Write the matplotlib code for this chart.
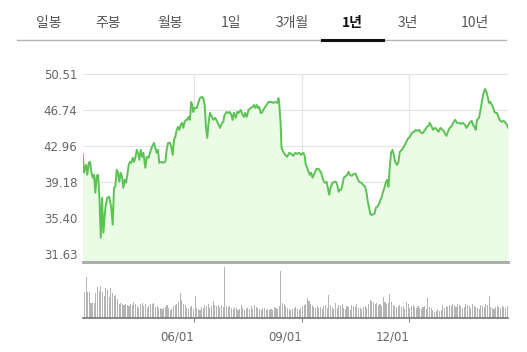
import numpy as np
import pandas as pd
import matplotlib
matplotlib.use("Agg")
import matplotlib.pyplot as plt
import matplotlib.dates as mdates

# period tabs on top
tabs = ["일봉", "주봉", "월봉", "1일", "3개월", "1년", "3년", "10년"]
active_tab = "1년"

start = pd.Timestamp("2017-02-27")
end_offset = 360.7

# sampled closing prices (offset in days from start, price)
days = [0.0, 1.1, 2.8, 3.9, 5.1, 6.2, 7.3, 8.5, 9.6, 10.7, 11.9, 13.0, 14.1, 15.3, 16.4, 17.5,
        19.2, 20.8, 22.5, 24.2, 25.4, 26.5, 27.6, 28.8, 29.9, 31.0, 32.2, 33.3, 34.4, 35.6, 36.7,
        37.8, 39.0, 40.1, 41.2, 42.4, 43.5, 44.6, 45.8, 46.9, 48.0, 49.2, 50.3, 51.4, 53.1, 54.2,
        55.9, 57.0, 58.7, 60.4, 61.5, 62.7, 63.8, 64.9, 66.6, 68.3, 70.0, 71.2, 72.3, 74.0, 75.1,
        76.3, 77.4, 78.5, 79.7, 80.8, 81.9, 83.1, 84.2, 85.3, 86.4, 87.5, 88.6, 89.8, 90.9, 92.0,
        93.2, 93.7, 94.9, 96.6, 98.3, 99.4, 101.1, 102.2, 103.4, 104.5, 105.6, 106.8, 107.9, 109.6,
        110.7, 112.4, 114.1, 115.3, 116.4, 118.1, 119.2, 120.3, 122.0, 123.7, 124.8, 126.0, 127.1,
        128.2, 129.9, 131.0, 132.2, 133.9, 135.6, 136.7, 137.8, 139.0, 140.7, 142.4, 144.1, 145.2,
        146.3, 147.5, 148.6, 149.7, 150.8, 152.0, 153.1, 154.7, 155.9, 157.6, 160.2, 161.5, 163.2,
        164.9, 166.1, 166.6, 167.8, 168.6, 170.0, 171.7, 173.4, 175.1, 176.8, 178.5, 180.2, 181.9,
        183.6, 185.3, 186.9, 188.1, 189.2, 190.3, 191.5, 192.6, 193.7, 194.9, 196.0, 197.1, 198.3,
        200.0, 201.1, 202.2, 203.4, 204.5, 205.6, 206.8, 207.9, 209.0, 210.2, 211.9, 213.6, 214.7,
        215.8, 217.0, 218.1, 219.2, 220.3, 221.4, 222.5, 224.2, 225.4, 226.5, 228.2, 229.9, 231.6,
        232.7, 234.4, 236.1, 237.8, 239.5, 240.7, 241.8, 242.9, 244.1, 245.8, 247.5, 248.6, 249.7,
        251.4, 252.5, 253.6, 254.7, 255.9, 257.0, 258.1, 259.3, 260.4, 261.5, 262.7, 263.8, 264.9,
        266.6, 267.8, 268.9, 270.6, 272.3, 274.0, 275.7, 277.4, 279.1, 280.8, 282.5, 284.2, 285.3,
        286.9, 288.6, 290.3, 292.0, 293.2, 294.3, 296.0, 297.1, 298.8, 300.0, 301.7, 303.4, 305.1,
        306.2, 307.3, 308.5, 309.6, 311.3, 313.0, 314.7, 315.8, 317.5, 319.2, 320.8, 322.5, 324.2,
        325.4, 327.1, 328.8, 329.9, 331.0, 332.2, 333.3, 334.4, 336.1, 337.8, 339.5, 341.2, 342.4,
        343.5, 344.6, 345.8, 346.9, 348.0, 349.2, 350.3, 351.4, 352.6, 353.6, 355.3, 357.0, 358.7,
        359.8, 360.7]
prices = [42.15, 40.16, 40.99, 39.94, 41.20, 41.31, 40.26, 39.63, 39.94, 38.06, 39.84, 39.94, 37.64,
          33.34, 37.53, 33.86, 36.48, 37.53, 37.64, 36.48, 34.70, 38.58, 38.69, 40.47, 40.16, 39.21,
          40.16, 39.74, 38.58, 39.42, 39.11, 39.94, 40.99, 41.31, 41.20, 41.73, 41.31, 41.73, 42.57,
          42.25, 41.52, 42.57, 41.83, 42.25, 40.68, 41.83, 41.73, 42.25, 42.88, 43.30, 42.78, 42.25,
          42.57, 41.20, 41.31, 41.20, 41.31, 42.57, 43.30, 43.30, 42.88, 42.04, 43.62, 43.93, 44.67,
          44.98, 44.67, 45.19, 45.40, 44.88, 45.51, 45.72, 45.72, 46.03, 45.72, 47.60, 47.08, 46.55,
          46.97, 46.97, 47.60, 48.02, 48.13, 48.02, 47.29, 44.98, 43.83, 45.51, 46.45, 46.03, 45.72,
          45.93, 45.51, 45.19, 44.88, 45.40, 45.51, 46.24, 46.55, 46.45, 46.55, 46.24, 45.72, 46.45,
          45.93, 46.55, 46.45, 46.76, 46.24, 46.03, 46.45, 46.03, 46.76, 46.97, 47.08, 47.29, 46.97,
          47.29, 46.97, 47.08, 46.45, 46.45, 46.76, 47.08, 47.29, 47.60, 47.60, 47.50, 47.60, 47.50,
          48.02, 47.50, 45.40, 42.78, 42.36, 42.04, 41.83, 42.25, 42.15, 41.94, 42.25, 42.15, 42.25,
          42.04, 42.25, 42.04, 40.99, 40.68, 40.26, 39.94, 40.16, 39.63, 39.94, 40.26, 40.57, 40.57,
          40.37, 40.16, 39.63, 39.21, 39.11, 39.21, 38.58, 37.85, 38.58, 39.11, 39.21, 39.21, 38.90,
          38.16, 38.37, 38.37, 38.90, 39.63, 39.74, 39.94, 40.26, 39.94, 39.84, 40.05, 40.05, 39.63,
          39.21, 39.11, 38.90, 38.69, 38.06, 37.11, 36.48, 35.75, 35.75, 35.86, 36.48, 36.59, 36.90,
          37.32, 37.64, 38.16, 38.58, 39.11, 39.42, 38.69, 40.78, 42.25, 42.57, 42.04, 41.31, 40.99,
          41.31, 42.36, 42.57, 42.88, 43.30, 43.72, 43.93, 44.35, 44.46, 44.67, 44.56, 44.67, 44.35,
          44.35, 44.67, 44.98, 45.09, 45.40, 44.98, 44.67, 44.88, 44.77, 44.46, 44.88, 44.67, 44.56,
          44.25, 44.04, 44.46, 44.88, 45.09, 45.51, 45.72, 45.40, 45.40, 45.30, 45.40, 45.19, 44.88,
          45.19, 45.51, 45.61, 45.19, 44.98, 44.67, 45.72, 45.93, 47.08, 48.34, 48.97, 48.65, 48.13,
          47.50, 47.60, 47.29, 47.08, 46.55, 46.45, 46.45, 46.03, 45.72, 45.51, 45.61, 45.40, 45.19,
          44.88]

# trading volume (millions of shares, no axis labels on the chart)
volume = [2.1, 2.7, 4.2, 2.7, 2.7, 1.6, 1.6, 1.6, 2.6, 3.2, 2.8, 3.3, 2.7, 2.3, 3.1, 2.9, 2.2, 3.1,
          2.6, 2.3, 2.4, 2.0, 1.5, 1.6, 1.4, 1.3, 1.5, 1.3, 1.2, 1.4, 1.3, 1.7, 1.5, 1.2, 1.0, 1.4,
          1.6, 1.2, 1.4, 1.0, 1.2, 1.5, 1.4, 1.6, 1.1, 1.2, 1.0, 1.0, 0.9, 1.0, 1.1, 1.3, 1.0, 0.8,
          0.9, 1.2, 1.3, 1.4, 1.7, 2.6, 1.9, 1.4, 1.3, 1.0, 0.9, 1.1, 1.2, 0.9, 2.3, 1.0, 0.9, 0.8,
          1.1, 1.0, 1.3, 1.2, 1.4, 1.0, 1.2, 1.8, 1.3, 1.2, 1.3, 1.1, 1.3, 1.1, 5.2,
          1.2, 1.1, 1.2, 1.0, 0.9, 1.1, 1.0, 0.8, 0.9, 1.3, 1.0, 0.8, 1.0, 1.0, 0.9, 1.2, 0.9, 1.3,
          1.1, 1.0, 0.9, 0.8, 1.0, 1.0, 0.8, 0.9, 0.8, 0.9, 0.8, 1.1, 1.0, 0.9, 1.2, 4.8,
          1.6, 1.5, 1.2, 1.0, 0.9, 0.8, 0.9, 1.0, 1.1, 0.9, 0.8, 1.0, 1.2, 1.3, 1.5, 2.1, 1.8, 1.5,
          1.3, 1.1, 1.0, 1.2, 1.0, 1.1, 0.9, 1.2, 1.3, 1.0, 2.4, 1.3, 1.1, 0.9, 1.6, 1.0, 1.3, 1.2,
          1.4, 1.0, 0.9, 1.2, 1.1, 0.8, 1.3, 1.2, 1.1, 1.4, 1.0,
          1.0, 0.9, 1.1, 1.2, 1.0, 1.5, 1.9, 1.8, 1.7, 1.4, 1.6, 1.3, 1.5, 1.2, 2.2, 1.7, 1.5, 1.6,
          2.5, 1.7, 1.3, 1.2, 1.1, 1.2, 1.3, 1.1, 1.2, 0.9, 1.7, 1.4, 1.0, 1.2, 1.3, 1.1, 1.0, 1.2,
          1.0, 0.9, 1.1, 1.2, 0.9, 2.1, 1.1, 1.0, 0.8, 0.6, 0.7, 0.9, 0.7, 0.8, 1.3, 1.0, 1.2, 1.1,
          1.3, 1.2, 1.4, 1.3, 1.1, 1.5, 1.3, 1.2, 1.0, 1.1, 1.4, 1.3, 1.2, 1.0, 1.5, 1.2, 1.1, 1.0,
          0.9, 1.3, 1.2, 1.1, 1.4, 1.3, 2.3, 1.1, 1.0, 0.9, 1.1, 1.2, 1.1, 1.0, 1.2, 1.1, 1.0, 1.2]

y_ticks = [31.63, 35.40, 39.18, 42.96, 46.74, 50.51]
x_ticks = ["2017-06-01", "2017-09-01", "2017-12-01"]

plt.rcParams['font.family'] = ['DejaVu Sans']

dates = start + pd.to_timedelta(days, unit="D")
end = start + pd.Timedelta(days=end_offset)
vol_dates = pd.date_range(start, start + pd.Timedelta(days=360), periods=len(volume))
tick_dates = pd.to_datetime(x_ticks)

fig = plt.figure(figsize=(5.27, 3.52), dpi=100)

# tab bar
for i, t in enumerate(tabs):
    xpos = [0.0917, 0.205, 0.3226, 0.438, 0.5535, 0.669, 0.7735, 0.9013][i]
    bold = t == active_tab
    fig.text(xpos, 0.935, t, ha="center", va="center", fontsize=10,
             family=["Noto Sans CJK KR", "DejaVu Sans"],
             color="#111111" if bold else "#555555",
             fontweight="bold" if bold else "normal")
fig.add_artist(plt.Line2D([0.032, 0.96], [0.885, 0.885], color="#b5b5b5", lw=1))
fig.add_artist(plt.Line2D([0.611, 0.727], [0.887, 0.887], color="#111111", lw=2.2))

# price chart
ax = fig.add_axes([0.157, 0.256, 0.807, 0.533])
ax.fill_between(dates, prices, 30.79, color="#eafbe6", lw=0)
ax.plot(dates, prices, color="#5cc254", lw=1.4)
ax.set_xlim(start, end)
ax.set_ylim(30.79, 50.51)
ax.set_yticks(y_ticks)
ax.set_yticklabels([f"{v:.2f}" for v in y_ticks])
ax.set_xticks(tick_dates)
ax.tick_params(axis="x", length=0, labelbottom=False)
ax.tick_params(axis="y", length=0, pad=4, labelsize=8.5, labelcolor="#666666")
ax.grid(True, color="#e3e3e3", lw=0.8)
ax.set_axisbelow(True)
for s in ["top", "right", "left"]:
    ax.spines[s].set_visible(False)
ax.spines["bottom"].set_color("#a8a8a8")
ax.spines["bottom"].set_linewidth(2)

# volume chart
axv = fig.add_axes([0.157, 0.0957, 0.807, 0.1458])
axv.bar(vol_dates, volume, width=0.9, color="#b4b4b4", lw=0)
axv.set_xlim(start, end)
axv.set_ylim(0, 5.2)
axv.set_yticks([])
axv.set_xticks(tick_dates)
axv.xaxis.set_major_formatter(mdates.DateFormatter("%m/%d"))
for lbl in axv.get_xticklabels():
    lbl.set_horizontalalignment("right")
axv.tick_params(axis="x", length=3, color="#888888", pad=6, labelsize=8.5, labelcolor="#666666")
for s in ["top", "right", "left"]:
    axv.spines[s].set_visible(False)
axv.spines["bottom"].set_color("#777777")
axv.spines["bottom"].set_linewidth(1.2)

fig.savefig("out.png", dpi=100)
